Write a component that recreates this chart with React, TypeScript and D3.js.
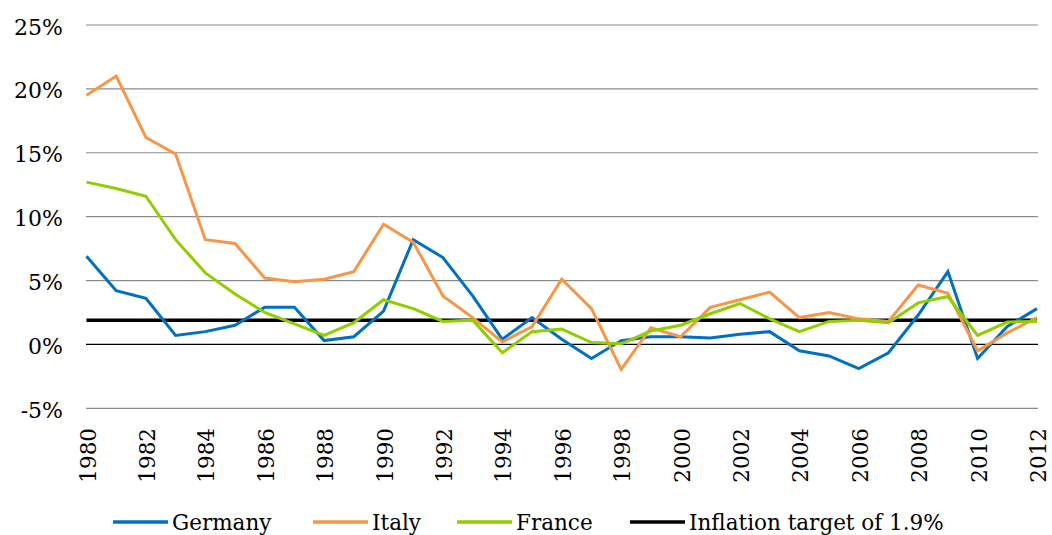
import React from "react";
import * as d3 from "d3";

const years = d3.range(1980, 2013);
const germany = [6.9, 4.2, 3.6, 0.7, 1.0, 1.5, 2.9, 2.9, 0.3, 0.6, 2.6, 8.2, 6.8, 3.8, 0.4, 2.1, 0.4, -1.1, 0.3, 0.6, 0.6, 0.5, 0.8, 1.0, -0.5, -0.9, -1.9, -0.65, 2.3, 5.7, -1.1, 1.4, 2.8];
const italy = [19.5, 21.0, 16.2, 14.9, 8.2, 7.9, 5.2, 4.9, 5.1, 5.7, 9.4, 8.0, 3.8, 2.1, 0.2, 1.4, 5.1, 2.8, -1.95, 1.3, 0.6, 2.9, 3.5, 4.1, 2.1, 2.5, 2.0, 1.8, 4.65, 4.0, -0.5, 0.9, 2.1];
const france = [12.7, 12.2, 11.6, 8.2, 5.6, 3.95, 2.5, 1.6, 0.7, 1.7, 3.5, 2.8, 1.8, 1.9, -0.65, 1.0, 1.2, 0.15, 0.05, 1.05, 1.5, 2.4, 3.2, 2.0, 1.0, 1.8, 1.9, 1.7, 3.25, 3.75, 0.7, 1.75, 1.8];
const target = 1.9;
const yTicks = [-5, 0, 5, 10, 15, 20, 25];
const xTicks = d3.range(1980, 2013, 2);

const series = [
  { name: "Germany", values: germany, color: "#0070C0" },
  { name: "Italy", values: italy, color: "#F79646" },
  { name: "France", values: france, color: "#92CD00" },
];

const legendItems = [
  { name: "Germany", color: "#0070C0", x: 113 },
  { name: "Italy", color: "#F79646", x: 313 },
  { name: "France", color: "#92CD00", x: 457 },
  { name: "Inflation target of 1.9%", color: "#000000", x: 630 },
];

const FONT = "'DejaVu Serif', serif";

export default function App() {
  const W = 1052, H = 535;
  const x = d3.scaleLinear().domain([1980, 2012]).range([86.5, 1037]);
  const y = d3.scaleLinear().domain([-5, 25]).range([408.3, 25]);
  const line = d3
    .line<number>()
    .x((_, i) => x(years[i]))
    .y((d) => y(d));

  return (
    <svg
      width={W}
      height={H}
      style={{ position: "absolute", left: 0, top: 0, background: "#fff" }}
      fontFamily={FONT}
    >
      {yTicks.map((t) => (
        <g key={t}>
          <line
            x1={86}
            x2={1038}
            y1={y(t)}
            y2={y(t)}
            stroke={t === 0 ? "#000" : "#8c8c8c"}
            strokeWidth={t === 0 ? 1.3 : 1.2}
          />
          <text x={63} y={y(t) + 9.5} textAnchor="end" fontSize={22} fill="#000">
            {t}%
          </text>
        </g>
      ))}
      {xTicks.map((t) => (
        <text
          key={t}
          transform={`translate(${x(t) + 9},428) rotate(-90)`}
          textAnchor="end"
          fontSize={21.5}
          fill="#000"
        >
          {t}
        </text>
      ))}
      <line x1={x(1980)} x2={x(2012)} y1={y(target)} y2={y(target)} stroke="#000" strokeWidth={3.5} />
      {series.map((s) => (
        <path
          key={s.name}
          d={line(s.values) || ""}
          fill="none"
          stroke={s.color}
          strokeWidth={3}
          strokeLinejoin="miter"
        />
      ))}
      {legendItems.map((l) => (
        <g key={l.name}>
          <line x1={l.x} x2={l.x + 55} y1={522} y2={522} stroke={l.color} strokeWidth={3.5} />
          <text x={l.x + 59} y={529.5} fontSize={21.5} fill="#000">
            {l.name}
          </text>
        </g>
      ))}
    </svg>
  );
}
